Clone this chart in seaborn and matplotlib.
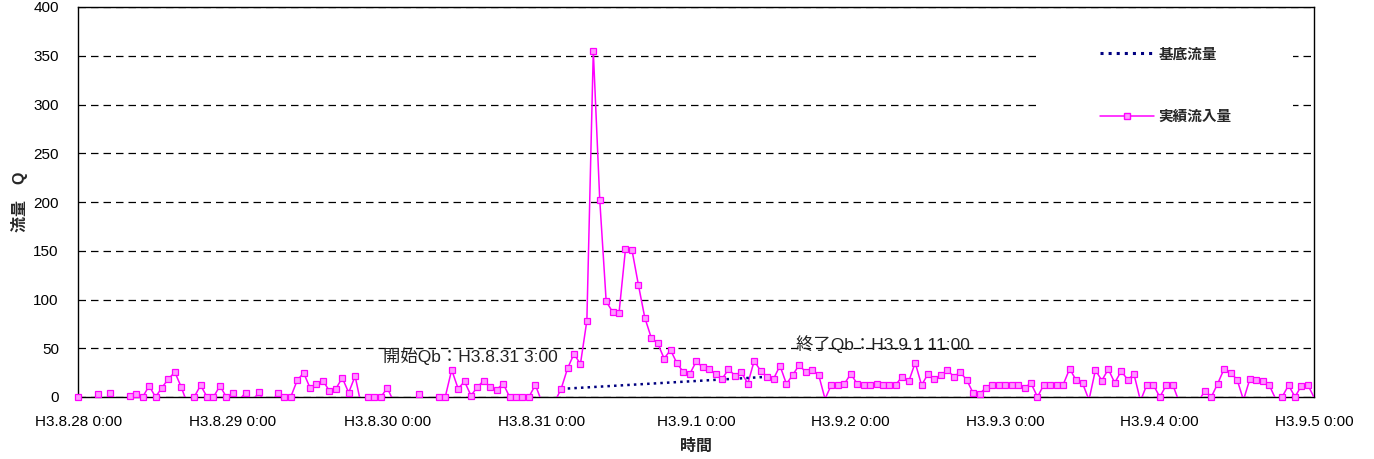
import matplotlib
matplotlib.use('Agg')
from matplotlib import pyplot as plt
from matplotlib.lines import Line2D
from matplotlib.patches import Rectangle
import numpy as np
import pandas as pd
import seaborn as sns

sns.set_style('white')
plt.rcParams['font.family'] = ['Liberation Sans', 'Noto Sans CJK JP']

# hourly inflow, H3.8.28 0:00 .. H3.9.5 0:00 (negative values run below the axis)
inflow = [
    0, -5, -6, 3.4, -6, 4, -6, -6, 1, 3,
    0, 11.4, 0, 9.7, 18.6, 25.5, 10, -8, 0, 12,
    0, 0, 11.4, 0, 4, -3, 4.5, -5, 4.8, -5,
    -5, 4, 0, 0, 17, 24.8, 9.3, 13.4, 16.9, 6.2,
    8.3, 19.7, 4.5, 21.4, -10, 0, 0, 0, 9.3, -5,
    -5, -5, -5, 2.8, -5, -5, 0, 0, 27.9, 8.6,
    15.9, 1.4, 10.3, 16.9, 10, 7.6, 13.8, 0, 0, 0,
    0, 12.4, -5, -5, -5, 8.3, 29.3, 44.2, 33.8, 78.3,
    354.9, 202.4, 98.1, 87.2, 86.5, 151.8, 151.1, 115.2, 81.4, 60.8,
    55.2, 39.4, 48.2, 34.5, 25.5, 23.8, 36.6, 30.3, 28.6, 23.1,
    18.4, 28.6, 21.9, 25.2, 13.8, 37.2, 26.6, 20.7, 18.6, 32.1,
    13.4, 22.8, 33.1, 25.2, 27.9, 22.8, -2, 12.8, 12.8, 13.4,
    23.8, 13.4, 12.8, 12.8, 13.4, 12.8, 12.8, 12.8, 21, 15.9,
    35.2, 12.1, 23.8, 18.6, 22.5, 27.4, 21, 25.3, 17.6, 4.1,
    3.1, 9.7, 12.8, 12.8, 12.8, 12.8, 12.8, 9.7, 14.1, 0,
    12.8, 12.8, 12.8, 12.8, 29, 17.2, 14.1, -3, 27.6, 16.9,
    28.6, 14.5, 26.6, 17.9, 23.1, -4, 12.8, 12.4, 0, 12.1,
    12.8, -5, -5, -5, -5, 6.6, 0, 13.8, 29, 24.8,
    17.9, -3, 18.6, 17.9, 16.2, 12.1, -2, 0, 12.1, 0,
    11.7, 12.4, -1,
]
hours = list(range(len(inflow)))

# base flow: start H3.8.31 3:00, end H3.9.1 11:00
base_hours = [75, 107]
base_flow = [8.3, 20.7]

tick_hours = [0, 24, 48, 72, 96, 120, 144, 168, 192]
tick_labels = ['H3.8.28 0:00', 'H3.8.29 0:00', 'H3.8.30 0:00', 'H3.8.31 0:00',
               'H3.9.1 0:00', 'H3.9.2 0:00', 'H3.9.3 0:00', 'H3.9.4 0:00',
               'H3.9.5 0:00']

LINE = '#FF00FF'
FACE = '#FF99FF'
NAVY = '#000080'

df = pd.DataFrame({'hour': hours, 'flow': inflow})
base = pd.DataFrame({'hour': base_hours, 'flow': base_flow})

fig = plt.figure(figsize=(13.74, 4.59), dpi=100)
ax = fig.add_axes([78.3 / 1374, 62 / 459, 1236 / 1374, 390 / 459])

ax.yaxis.grid(True, color='black', linestyle=(0, (6, 4)), linewidth=0.9)
ax.set_axisbelow(True)
# white patch behind the legend hides the grid there
ax.add_patch(Rectangle((0.778, 0.66), 0.205, 0.28, transform=ax.transAxes,
                       facecolor='white', edgecolor='none', zorder=1.5))

sns.lineplot(data=df, x='hour', y='flow', color=LINE, linewidth=1.1, ax=ax,
             legend=False, zorder=3)
pos = df[df['flow'] >= 0]
ax.plot(pos['hour'], pos['flow'], linestyle='none', marker='s', markersize=3.8,
        markerfacecolor=FACE, markeredgecolor=LINE, markeredgewidth=0.9,
        clip_on=False, zorder=4)
sns.lineplot(data=base, x='hour', y='flow', color=NAVY, linewidth=1.8,
             linestyle=':', ax=ax, legend=False, zorder=3.5)

ax.text(47.4, 42, '開始Qb：H3.8.31 3:00', fontsize=12.5, va='center', ha='left',
        color='#222222')
ax.text(111.5, 54.5, '終了Qb：H3.9.1 11:00', fontsize=12.5, va='center', ha='left',
        color='#222222')

ax.set_xlim(0, 192)
ax.set_ylim(0, 400)
ax.set_yticks(range(0, 401, 50))
ax.set_xticks(tick_hours)
ax.set_xticklabels(tick_labels)
ax.tick_params(axis='both', direction='in', length=5, width=0.8, labelsize=11,
               colors='black')
ax.tick_params(axis='x', pad=13)
ax.tick_params(axis='y', pad=14)
for s in ax.spines.values():
    s.set_visible(True)
    s.set_color('black')
    s.set_linewidth(1.0)

ax.set_xlabel('時間', fontsize=11.5, labelpad=7, fontweight='bold')
ax.set_ylabel('流量　Q', fontsize=11.5, fontweight='bold')
ax.yaxis.set_label_coords(-0.041, 0.5)

handles = [
    Line2D([], [], color=NAVY, linestyle=':', linewidth=2.2),
    Line2D([], [], color=LINE, linewidth=1.1, marker='s', markersize=4,
           markerfacecolor=FACE, markeredgecolor=LINE),
]
ax.legend(handles, ['基底流量', '実績流入量'], loc='upper left',
          bbox_to_anchor=(0.827, 0.896), frameon=False,
          prop={'size': 10.5, 'weight': 'bold'},
          handlelength=3.7, handletextpad=0.3, labelspacing=3.3,
          borderpad=0, borderaxespad=0)

fig.savefig('out.png', dpi=100)
